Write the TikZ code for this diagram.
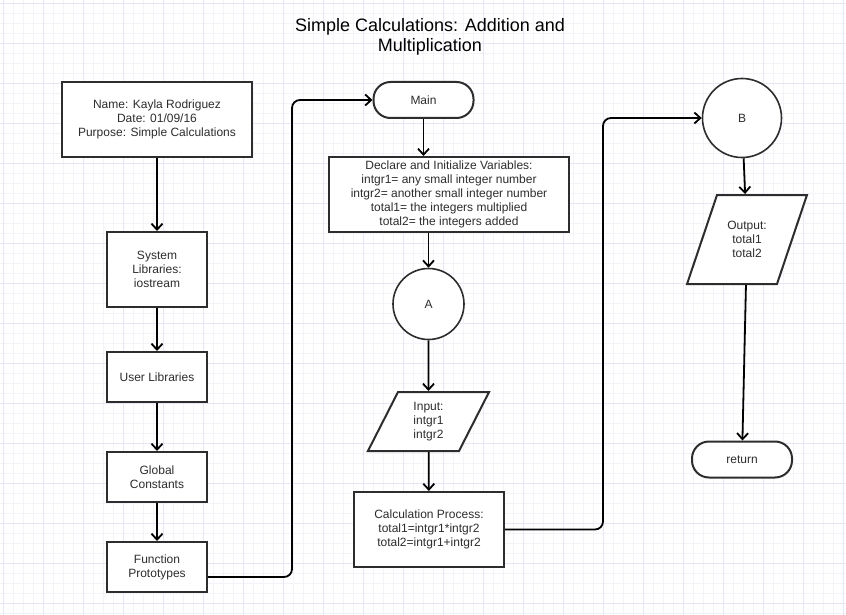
\documentclass[tikz,border=0pt]{standalone}
\usepackage{fontspec}
\setmainfont{Liberation Sans}
\usepackage{tikz}
\usetikzlibrary{arrows.meta,shapes.geometric}
\definecolor{gridminor}{RGB}{243,243,250}
\definecolor{gridmajor}{RGB}{231,231,244}
\definecolor{ink}{RGB}{45,45,45}

\begin{document}
\begin{tikzpicture}[x=1pt,y=-1pt]
						\tikzstyle{block}=[rectangle,draw=ink,line width=2pt,fill=white,text=ink,align=center,inner sep=0pt,font=\fontsize{12}{14}\selectfont]
						\tikzstyle{term}=[block,rounded corners=17pt,minimum width=100pt,minimum height=36pt]
						\tikzstyle{conn}=[block,circle,line width=1.6pt]
						\tikzstyle{io}=[block,trapezium]
						\tikzstyle{flow}=[line width=1.8pt,black,rounded corners=8pt,-{Straight Barb[length=6pt,width=11pt]}]
						\useasboundingbox (0,0) rectangle (846,615);
						\fill[white] (0,0) rectangle (846,615);
						\draw[gridminor,step=10pt,shift={(3pt,-3pt)}] (-3,-3) grid (843,612);
						\draw[gridmajor,step=40pt,shift={(3pt,-3pt)}] (-3,-3) grid (843,612);
						\node[text=black,align=center,font=\fontsize{18}{20}\selectfont](title) at (430,37) {Simple Calculations: Addition and\\Multiplication};
						\node[block,minimum width=190pt,minimum height=75pt](head) at (157,119.5) {Name: Kayla Rodriguez\\Date: 01/09/16\\Purpose: Simple Calculations};
						\node[block,minimum width=100pt,minimum height=75pt](sys) at (157,269.5) {System\\Libraries:\\iostream};
						\node[block,minimum width=100pt,minimum height=50pt](user) at (157,377) {User Libraries};
						\node[block,minimum width=100pt,minimum height=50pt](glob) at (157,477) {Global\\Constants};
						\node[block,minimum width=100pt,minimum height=50pt](proto) at (157,567) {Function\\Prototypes};
						\node[term](main) at (423.5,100) {Main};
						\node[block,minimum width=240pt,minimum height=75pt](decl) at (449,194.5) {Declare and Initialize Variables:\\intgr1= any small integer number\\intgr2= another small integer number\\total1= the integers multiplied\\total2= the integers added};
						\node[conn,minimum size=71pt](A) at (428.5,304) {A};
						\node[io,trapezium left angle=63,trapezium right angle=117](inp) at (428.5,421.5) {\begin{minipage}[c][59pt][c]{61pt}\centering Input:\\intgr1\\intgr2\end{minipage}};
						\node[block,minimum width=150pt,minimum height=75pt](calc) at (429,529.5) {Calculation Process:\\total1=intgr1*intgr2\\total2=intgr1+intgr2};
						\node[conn,minimum size=79pt](B) at (742,118) {B};
						\node[io,trapezium left angle=71.4,trapezium right angle=108.6](outp) at (747,239.5) {\begin{minipage}[c][89pt][c]{60pt}\centering Output:\\total1\\total2\end{minipage}};
						\node[term](ret) at (742,459.5) {return};
						\coordinate (bend1) at (292,100);
						\coordinate (bend2) at (603,118);
						\draw[flow](head) -- (sys);
						\draw[flow](sys) -- (user);
						\draw[flow](user) -- (glob);
						\draw[flow](glob) -- (proto);
						\draw[flow]([yshift=-10pt]proto.east) -| (bend1) -- (main);
						\draw[flow](main) -- (main.south |- decl.north);
						\draw[flow](A.north |- decl.south) -- (A);
						\draw[flow](A) -- (inp);
						\draw[flow](inp) -- (calc);
						\draw[flow](calc) -| (bend2) -- (B);
						\draw[flow](B) -- (outp);
						\draw[flow](outp) -- (ret);
					\end{tikzpicture}
\end{document}
